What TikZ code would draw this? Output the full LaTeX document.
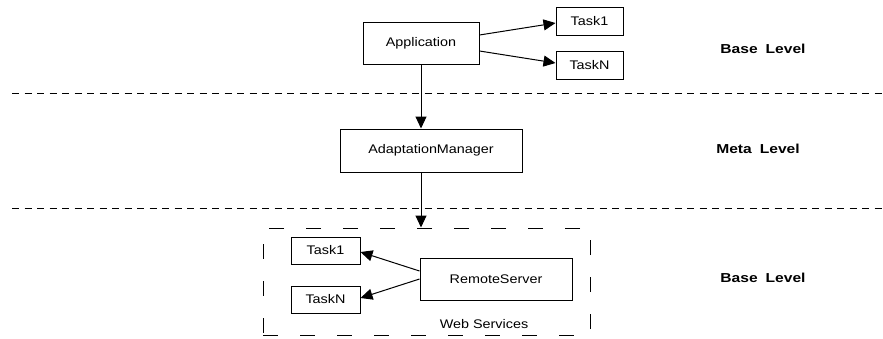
\documentclass[tikz,border=0pt]{standalone}
\usepackage{fontspec}
\usetikzlibrary{arrows.meta}
\newfontfamily\nfont[FakeStretch=1.15]{Liberation Sans}
\newfontfamily\lblfont[FakeStretch=1.2]{Liberation Sans Bold}
\tikzset{
  box/.style={draw, line width=1pt, inner sep=0pt, font=\nfont\fontsize{12.5}{14}\selectfont},
  lvl/.style={inner sep=0pt, font=\lblfont\fontsize{13}{15}\selectfont},
  arr/.style={line width=1pt, -{Triangle[length=12pt,width=11pt]}},
  sep/.style={line width=1pt, dash pattern=on 7pt off 5.5pt},
}
\begin{document}
\begin{tikzpicture}[x=1pt,y=-1pt]
\useasboundingbox (0,0) rectangle (883,338);
% separators
\draw[sep] (12,93) -- (883,93);
\draw[sep] (12,208) -- (883,208);
% base level (top)
\node[box, minimum width=116pt, minimum height=42pt] (app) at (421,43) {Application};
\node[box, minimum width=67pt, minimum height=28pt] (t1) at (589.5,21) {Task1};
\node[box, minimum width=67pt, minimum height=28pt] (tn) at (589.5,65) {TaskN};
\node[lvl] (lbl1) at (763,49) {Base\hspace{8pt}Level};
% meta level
\node[box, minimum width=182pt, minimum height=43pt] (am) at (431,150.5) {AdaptationManager};
\node[lvl] (lbl2) at (758,149) {Meta\hspace{8pt}Level};
% base level (bottom)
\node[draw, line width=1pt, dash pattern=on 15pt off 22pt, inner sep=0pt,
      minimum width=327pt, minimum height=107pt] (ws) at (426.5,281.5) {};
\node[box, minimum width=69pt, minimum height=27pt] (it1) at (325.5,250.5) {Task1};
\node[box, minimum width=69pt, minimum height=27pt] (itn) at (325.5,299.5) {TaskN};
\node[box, minimum width=152pt, minimum height=42pt] (rs) at (496,279) {RemoteServer};
\node[inner sep=0pt, font=\nfont\fontsize{12.5}{14}\selectfont] (webs) at (484,324) {Web Services};
\node[lvl] (lbl3) at (763,278) {Base\hspace{8pt}Level};
% connectors
\draw[arr] ([yshift=8pt]app.east) -- ([yshift=-2pt]t1.west);
\draw[arr] ([yshift=-8pt]app.east) -- ([yshift=2pt]tn.west);
\draw[arr] (app.south) -- (app.south |- am.north);
\draw[arr] (am.south -| app.south) -- (app.south |- ws.north);
\draw[arr] ([yshift=8pt]rs.west) -- ([yshift=-1.5pt]it1.east);
\draw[arr] (rs.west) -- ([yshift=1.5pt]itn.east);
\end{tikzpicture}
\end{document}
